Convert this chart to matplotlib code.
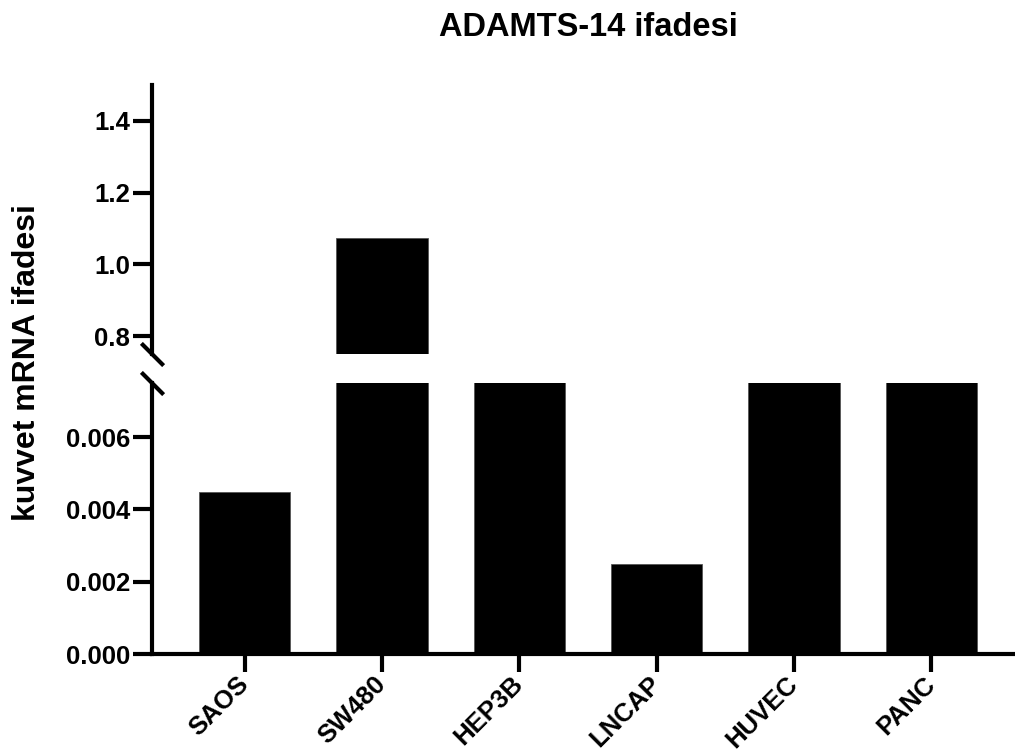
import matplotlib
matplotlib.use("Agg")
import matplotlib.pyplot as plt

plt.rcParams["font.family"] = ["Liberation Sans", "DejaVu Sans"]
plt.rcParams["font.weight"] = "bold"

cells = ["SAOS", "SW480", "HEP3B", "LNCAP", "HUVEC", "PANC"]
# relative mRNA expression; HEP3B/HUVEC/PANC run off the lower segment
# and stay below the upper one, so their exact values are not readable
expression = [0.00447, 1.074, 0.012, 0.00248, 0.012, 0.012]

low_ticks = [0.000, 0.002, 0.004, 0.006]
high_ticks = [0.8, 1.0, 1.2, 1.4]
low_lim = (0, 0.0075)
high_lim = (0.75, 1.5)

W, H = 1015, 753
fig = plt.figure(figsize=(W / 100, H / 100), dpi=100)

left = 152 / W
ax_hi = fig.add_axes([left, 1 - 354 / H, 1 - left, (354 - 85) / H])
ax_lo = fig.add_axes([left, 1 - 654 / H, 1 - left, (654 - 383) / H])

x = list(range(len(cells)))
for ax in (ax_hi, ax_lo):
    ax.bar(x, expression, width=0.665, color="black", edgecolor="#555555", linewidth=0.6)
    ax.set_xlim(-0.675, len(cells) - 0.39)
    ax.spines["top"].set_visible(False)
    ax.spines["right"].set_visible(False)
    ax.spines["left"].set_linewidth(3)
    ax.spines["bottom"].set_linewidth(3)
    ax.tick_params(axis="y", direction="out", length=14, width=3, pad=2, labelsize=18.5)

ax_hi.set_ylim(*high_lim)
ax_hi.set_yticks(high_ticks)
ax_hi.set_yticklabels([f"{v:.1f}" for v in high_ticks])
ax_hi.spines["bottom"].set_visible(False)
ax_hi.set_xticks([])

ax_lo.set_ylim(*low_lim)
ax_lo.set_yticks(low_ticks)
ax_lo.set_yticklabels([f"{v:.3f}" for v in low_ticks])
ax_lo.set_xticks(x)
ax_lo.set_xticklabels(cells, rotation=45, ha="right", va="center",
                      rotation_mode="anchor", fontsize=18.5)
ax_lo.tick_params(axis="x", direction="out", length=13, width=3, pad=6)

# break marks on the y axis
mark = dict(marker=[(-1, 1), (1, -1)], markersize=16, linestyle="none",
            color="black", mew=3, clip_on=False)
ax_hi.plot([0], [0], transform=ax_hi.transAxes, **mark)
ax_lo.plot([0], [1], transform=ax_lo.transAxes, **mark)

fig.text(588 / W, 1 - 28 / H, "ADAMTS-14 ifadesi", ha="center", va="center",
         fontsize=23.5, fontweight="bold")
fig.text(27 / W, 1 - 363 / H, "kuvvet mRNA ifadesi", ha="center", va="center",
         rotation=90, fontsize=23, fontweight="bold")

fig.savefig("out.png", dpi=100)
